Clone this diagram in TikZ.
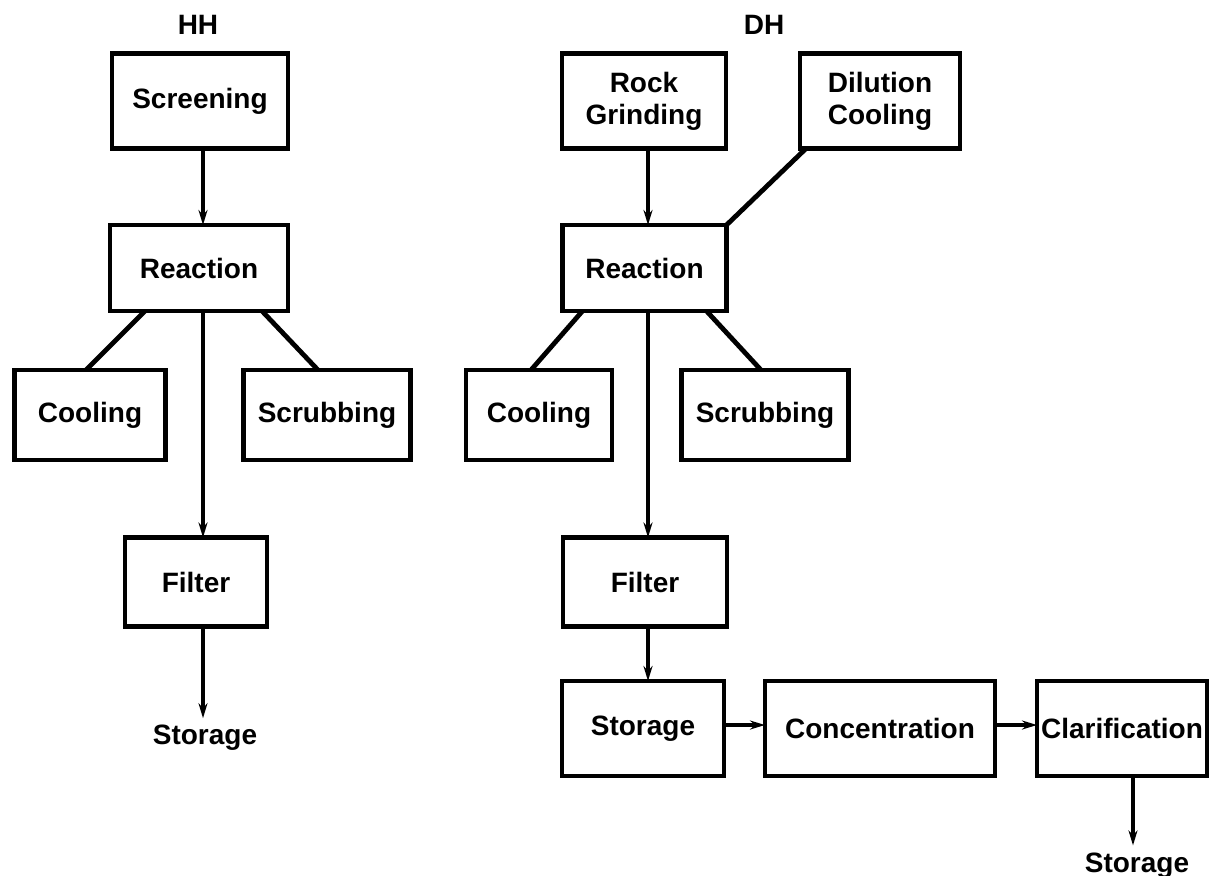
\documentclass[tikz,border=0pt]{standalone}
\usepackage{fontspec}
\setmainfont{Liberation Sans}
\usetikzlibrary{arrows.meta,calc}
\begin{document}
\begin{tikzpicture}[x=0.5pt,y=-0.5pt,
  box/.style={draw,line width=2.2pt,inner sep=0pt,outer sep=0pt,align=center,
    font=\bfseries\fontsize{14}{16}\selectfont},
  lbl/.style={font=\bfseries\fontsize{14}{16}\selectfont},
  flow/.style={line width=2pt,-{Stealth[length=7.5pt,width=4.5pt]}},
  link/.style={line width=2.4pt}]
\useasboundingbox[fill=white] (0,0) rectangle (1210,875);

% ---- HH process ----
\node[lbl] (hh) at (198,25) {HH};
\node[box,minimum width=88pt,minimum height=47.5pt] (scr) at (200,101) {Screening};
\node[box,minimum width=89pt,minimum height=43pt] (reaL) at (199,268) {Reaction};
\node[box,minimum width=75.5pt,minimum height=45pt] (coolL) at (90,415) {Cooling};
\node[box,minimum width=83.5pt,minimum height=45pt] (scrubL) at (327,415) {Scrubbing};
\node[box,minimum width=71pt,minimum height=44.5pt] (filL) at (196,582) {Filter};
\node[lbl] (stoL) at (205,738) {Storage};
\coordinate (axL) at (203,0);

\draw[flow] (scr.south -| axL) -- (reaL.north -| axL);
\draw[flow] (reaL.south -| axL) -- (filL.north -| axL);
\draw[flow] (filL.south -| axL) -- (stoL.north -| axL);
\draw[link] ($(reaL.south)+(-54,0)$) -- ($(coolL.north)+(-4,0)$);
\draw[link] ($(reaL.south)+(63,0)$) -- ($(scrubL.north)+(-9,0)$);

% ---- DH process ----
\node[lbl] (dh) at (764,25) {DH};
\node[box,minimum width=82pt,minimum height=47.5pt] (rock) at (644,101) {Rock\\Grinding};
\node[box,minimum width=80pt,minimum height=47.5pt] (dil) at (880,101) {Dilution\\Cooling};
\node[box,minimum width=82pt,minimum height=43pt] (reaR) at (644.5,268) {Reaction};
\node[box,minimum width=73pt,minimum height=45pt] (coolR) at (539,415) {Cooling};
\node[box,minimum width=83.5pt,minimum height=45pt] (scrubR) at (765,415) {Scrubbing};
\node[box,minimum width=82pt,minimum height=44.5pt] (filR) at (645,582) {Filter};
\node[box,minimum width=81pt,minimum height=47.5pt] (stoR) at (643,728.5) {Storage};
\node[box,minimum width=115pt,minimum height=47.5pt] (conc) at (880,728.5) {Concentration};
\node[box,minimum width=85pt,minimum height=47.5pt] (clar) at (1122,728.5) {Clarification};
\node[lbl,anchor=base] (stoEnd) at (1137,872) {Storage};
\coordinate (axR) at (648,0);
\coordinate (axC) at (1133,0);

\draw[flow] (rock.south -| axR) -- (reaR.north -| axR);
\draw[flow] (reaR.south -| axR) -- (filR.north -| axR);
\draw[flow] (filR.south -| axR) -- (stoR.north -| axR);
\draw[link] ($(dil.south west)+(6,0)$) -- (reaR.north east);
\draw[link] ($(reaR.south)+(-62,0)$) -- ($(coolR.north)+(-8,0)$);
\draw[link] ($(reaR.south)+(62,0)$) -- ($(scrubR.north)+(-4,0)$);
\draw[flow] ($(stoR.east)+(0,-3.5)$) -- ($(conc.west)+(0,-3.5)$);
\draw[flow] ($(conc.east)+(0,-3.5)$) -- ($(clar.west)+(0,-3.5)$);
\draw[flow] (clar.south -| axC) -- (stoEnd.north -| axC);
\end{tikzpicture}
\end{document}
